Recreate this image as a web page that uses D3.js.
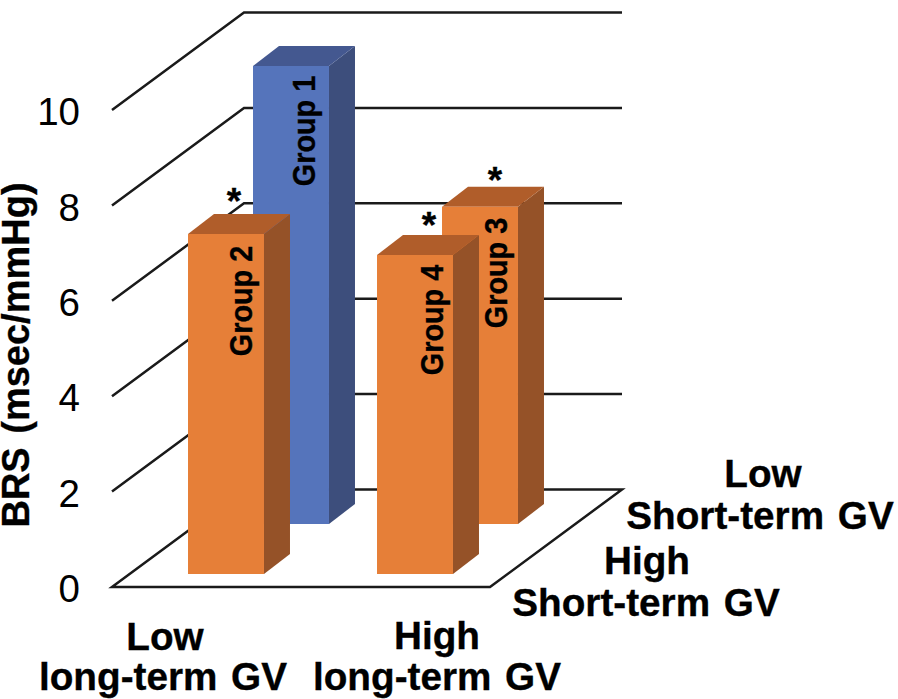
<!DOCTYPE html>
<html>
<head>
<meta charset="utf-8">
<script src="https://cdnjs.cloudflare.com/ajax/libs/d3/7.8.5/d3.min.js"></script>
<style>
  html, body { margin: 0; padding: 0; background: #fff; }
  svg { display: block; }
  text { font-family: "Liberation Sans", sans-serif; font-weight: bold; fill: #000; stroke: #000; stroke-width: 0.35px; word-spacing: 3px; }
  .tick text { stroke: none; }
  .bar text { word-spacing: 0; }
</style>
</head>
<body>
<div class="center"></div>
<script>
var longTerm = ["Low", "High"];
var shortTerm = ["High", "Low"];   // front row first
var groups = ["Group 1", "Group 2", "Group 3", "Group 4"];
var groupLong = ["Low", "Low", "High", "High"];
var groupShort = ["Low", "High", "Low", "High"];
var brs = [9.6, 7.13, 6.65, 6.69];
var stars = [false, true, true, true];
var yTicks = [0, 2, 4, 6, 8, 10];

var width = 898, height = 699;

// floor of the 3d box
var x0 = 112, floorWidth = 378, depthX = 132, depthY = 97.5;
var barSkew = 1.3, barOffset = 2.6;

var svg = d3.select(".center").append("svg")
    .attr("width", width)
    .attr("height", height);

var y = d3.scaleLinear().domain([0, 10]).range([587, 110]);

var x = d3.scaleBand().domain(longTerm).range([0, floorWidth])
    .paddingInner(0.598).paddingOuter(0.299);

var depth = d3.scaleBand().domain(shortTerm).range([-2, 98])
    .paddingInner(0.6).paddingOuter(0.3);

// plan position + depth + value -> screen
function px(a, d) { return x0 + a + d * depthX / depthY; }
function py(v, d) { return y(v) - d; }
function pts(list) {
  return list.map(function(p) { return px(p[0], p[1]) + "," + py(p[2], p[1]); }).join(" ");
}
// same thing for the bars, their slant is a bit steeper than the floor
function barPts(list) {
  return list.map(function(p) { return (x0 + p[0] + barOffset + p[1] * barSkew) + "," + py(p[2], p[1]); }).join(" ");
}

// floor
svg.append("polygon")
    .attr("points", pts([[0, 0, 0], [floorWidth, 0, 0], [floorWidth, depthY, 0], [0, depthY, 0]]))
    .attr("fill", "#fff")
    .attr("stroke", "#1a1a1a")
    .attr("stroke-width", 2.5);

// gridlines, along the side wall and the back wall
svg.selectAll(".grid")
    .data(yTicks.slice(1))
    .enter().append("polyline")
    .attr("class", "grid")
    .attr("points", function(d) { return pts([[0, 0, d], [0, depthY, d], [floorWidth, depthY, d]]); })
    .attr("fill", "none")
    .attr("stroke", "#1a1a1a")
    .attr("stroke-width", 2.5);

var colors = {
  blue: { front: "#5574bb", top: "#445890", side: "#3d4e7c" },
  orange: { front: "#e67f38", top: "#b05d2a", side: "#955228" }
};

var bars = groups.map(function(g, i) {
  return { name: g, long: groupLong[i], short: groupShort[i], value: brs[i], star: stars[i],
           c: i == 0 ? colors.blue : colors.orange };
});

// back row first so the front row covers it
bars.sort(function(a, b) { return depth(b.short) - depth(a.short); });

var bar = svg.selectAll(".bar")
    .data(bars)
    .enter().append("g")
    .attr("class", "bar");

bar.append("polygon")
    .attr("fill", function(d) { return d.c.side; })
    .attr("points", function(d) {
      var a = x(d.long) + x.bandwidth(), b = depth(d.short), e = b + depth.bandwidth();
      return barPts([[a, b, 0], [a, e, 0], [a, e, d.value], [a, b, d.value]]);
    });

bar.append("polygon")
    .attr("fill", function(d) { return d.c.top; })
    .attr("points", function(d) {
      var a = x(d.long), w = x.bandwidth(), b = depth(d.short), e = b + depth.bandwidth();
      return barPts([[a, b, d.value], [a + w, b, d.value], [a + w, e, d.value], [a, e, d.value]]);
    });

bar.append("polygon")
    .attr("fill", function(d) { return d.c.front; })
    .attr("points", function(d) {
      var a = x(d.long), w = x.bandwidth(), b = depth(d.short);
      return barPts([[a, b, 0], [a + w, b, 0], [a + w, b, d.value], [a, b, d.value]]);
    });

// labels inside the bars
var labelPos = { "Group 1": [315, 131], "Group 2": [252, 301], "Group 3": [507, 273], "Group 4": [443, 320] };
bar.append("text")
    .text(function(d) { return d.name; })
    .attr("transform", function(d) { return "translate(" + labelPos[d.name] + ") rotate(-90) scale(0.93,1)"; })
    .attr("text-anchor", "middle")
    .attr("font-size", "31px");

// significance stars
var starPos = { "Group 2": [234, 214], "Group 3": [495, 193], "Group 4": [429, 238] };
bar.filter(function(d) { return d.star; }).append("text")
    .text("*")
    .attr("x", function(d) { return starPos[d.name][0]; })
    .attr("y", function(d) { return starPos[d.name][1]; })
    .attr("text-anchor", "middle")
    .attr("font-size", "37px");

// y axis
var axis = svg.append("g")
    .attr("transform", "translate(" + 88 + ",0)")
    .call(d3.axisLeft(y).tickValues(yTicks).tickSize(0).tickPadding(8));
axis.select(".domain").remove();
axis.selectAll("text")
    .style("font-weight", "normal")
    .attr("font-family", null)
    .style("font-size", "38.5px")
    .attr("dy", "0.38em");

svg.append("text")
    .text("BRS (msec/mmHg)")
    .attr("transform", "translate(29,355) rotate(-90)")
    .attr("text-anchor", "middle")
    .attr("font-size", "38px");

// category labels, two lines each
var catLabels = [
  { text: "Low", x: 165, y: 650 },
  { text: "long-term GV", x: 163, y: 690 },
  { text: "High", x: 437, y: 649 },
  { text: "long-term GV", x: 437, y: 690 },
  { text: "Low", x: 763, y: 487 },
  { text: "Short-term GV", x: 760, y: 529 },
  { text: "High", x: 647, y: 574 },
  { text: "Short-term GV", x: 646, y: 616 }
];
svg.selectAll(".cat")
    .data(catLabels)
    .enter().append("text")
    .attr("class", "cat")
    .text(function(d) { return d.text; })
    .attr("x", function(d) { return d.x; })
    .attr("y", function(d) { return d.y; })
    .attr("text-anchor", "middle")
    .attr("font-size", "38.7px");
</script>
</body>
</html>
